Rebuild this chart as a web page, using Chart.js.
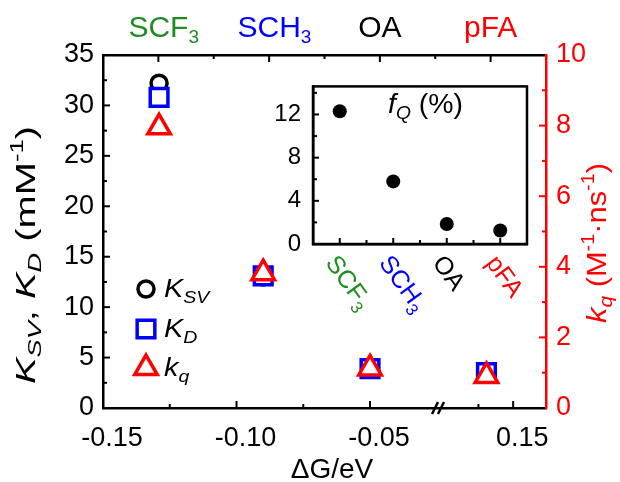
<!DOCTYPE html>
<html>
<head>
<meta charset="utf-8">
<script src="https://cdn.jsdelivr.net/npm/chart.js@4.4.1/dist/chart.umd.min.js"></script>
<style>
  html, body { margin: 0; padding: 0; background: #fff; }
  #wrap { position: relative; width: 620px; height: 482px; }
  #mainChart { position: absolute; left: 0; top: 0; }
  #insetChart { position: absolute; left: 270px; top: 60px; }
</style>
</head>
<body>
<div id="wrap">
  <canvas id="mainChart" width="620" height="482"></canvas>
  <canvas id="insetChart" width="270" height="275"></canvas>
</div>
<script>
const FONT = '"Liberation Sans", Arial, sans-serif';
const F = (style, size) => `${style} ${size}px ${FONT}`;

// quenchers, same order everywhere
const quencherNames = ['SCF', 'SCH', 'OA', 'pFA'];
const quencherSubs = ['3', '3', '', ''];
const quencherColors = ['#1f8c1f', '#0000ff', '#000000', '#ff0000'];

// driving force (eV) and measured constants
const deltaG = [-0.129, -0.090, -0.050, 0.140];
const kSV = [32.2, 13.0, 4.0, 3.6];     // mM-1, left axis
const kD = [30.8, 13.1, 3.9, 3.5];      // mM-1, left axis
const kq = [7.95, 3.82, 1.12, 0.91];    // M-1 ns-1, right axis
const fQ = [12.3, 5.8, 1.85, 1.25];     // %, inset

const xTickValues = [-0.15, -0.10, -0.05, 0.15];
const xTickLabels = ['-0.15', '-0.10', '-0.05', '0.15'];
const xMinorValues = [-0.125, -0.075, 0.137];
const insetYTicks = [0, 4, 8, 12];

// broken x axis: everything right of the cut is shifted left
const X_MIN = -0.15;
const X_MAX = 0.0159;
const BREAK_AT = -0.0238;
const BREAK_SHIFT = 0.1464;
const toAxis = g => (g > 0 ? g - BREAK_SHIFT : g);

function richText(ctx, parts, x, y, opt) {
  const o = Object.assign({ angle: 0, align: 'left', color: '#000', stretch: 1, len: 0 }, opt);
  ctx.save();
  ctx.fillStyle = o.color;
  ctx.textAlign = 'left';
  ctx.textBaseline = 'alphabetic';
  let w = 0;
  for (const [t, f] of parts) { ctx.font = f; w += ctx.measureText(t).width; }
  const sx = o.len ? o.len / w : o.stretch;
  ctx.translate(x, y);
  ctx.rotate(o.angle);
  ctx.scale(sx, 1);
  let cx = o.align === 'center' ? -w / 2 : 0;
  for (const [t, f, dy] of parts) {
    ctx.font = f;
    ctx.fillText(t, cx, dy || 0);
    cx += ctx.measureText(t).width;
  }
  ctx.restore();
}

function marker(ctx, style, x, y, r, color, lw) {
  ctx.save();
  ctx.strokeStyle = color;
  ctx.fillStyle = '#fff';
  ctx.lineWidth = lw;
  ctx.beginPath();
  if (style === 'circle') {
    ctx.arc(x, y, r, 0, Math.PI * 2);
  } else if (style === 'rect') {
    const s = r * Math.SQRT1_2;
    ctx.rect(x - s, y - s, 2 * s, 2 * s);
  } else {
    ctx.moveTo(x, y - r);
    ctx.lineTo(x + r * Math.sin(Math.PI * 2 / 3), y + r / 2);
    ctx.lineTo(x - r * Math.sin(Math.PI * 2 / 3), y + r / 2);
    ctx.closePath();
  }
  ctx.fill();
  ctx.stroke();
  ctx.restore();
}

function line(ctx, x1, y1, x2, y2) {
  ctx.beginPath();
  ctx.moveTo(x1, y1);
  ctx.lineTo(x2, y2);
  ctx.stroke();
}

const mainDecor = {
  id: 'mainDecor',
  afterDraw(chart) {
    const { ctx, chartArea: a, scales } = chart;
    ctx.save();
    ctx.lineWidth = 2;
    ctx.strokeStyle = '#000';

    // inward ticks, bottom axis
    xTickValues.forEach(v => {
      const px = scales.x.getPixelForValue(toAxis(v));
      if (px > a.left + 2 && px < a.right - 2) line(ctx, px, a.bottom, px, a.bottom - 7);
    });
    xMinorValues.forEach(v => {
      const px = scales.x.getPixelForValue(toAxis(v));
      line(ctx, px, a.bottom, px, a.bottom - 4);
    });
    // top category axis
    for (let c = 1; c <= 4; c++) {
      const px = scales.x2.getPixelForValue(c);
      line(ctx, px, a.top, px, a.top + 7);
      if (c < 4) {
        const pm = scales.x2.getPixelForValue(c + 0.5);
        line(ctx, pm, a.top, pm, a.top + 4);
      }
    }
    // left axis
    for (let v = 2.5; v < 35; v += 2.5) {
      const py = scales.y.getPixelForValue(v);
      line(ctx, a.left, py, a.left + (v % 5 === 0 ? 7 : 4), py);
    }
    // right axis (red)
    ctx.strokeStyle = '#ff0000';
    for (let v = 1; v < 10; v++) {
      const py = scales.y2.getPixelForValue(v);
      line(ctx, a.right, py, a.right - (v % 2 === 0 ? 7 : 4), py);
    }

    // axis break marks
    ctx.strokeStyle = '#000';
    ctx.lineWidth = 2.5;
    const bx = scales.x.getPixelForValue(BREAK_AT);
    line(ctx, bx - 8, a.bottom + 6, bx - 2, a.bottom - 6);
    line(ctx, bx - 2, a.bottom + 6, bx + 4, a.bottom - 6);
    ctx.restore();

    // quencher labels on the top axis
    quencherNames.forEach((name, i) => {
      const px = scales.x2.getPixelForValue(i + 1);
      ctx.save();
      ctx.font = F('normal', 30);
      const w = ctx.measureText(name).width;
      ctx.restore();
      const parts = [[name, F('normal', 30)]];
      if (quencherSubs[i]) parts.push([quencherSubs[i], F('normal', 19), 6]);
      richText(ctx, parts, px - w / 2, 37, { color: quencherColors[i] });
    });

    // legend
    const lg = [
      ['circle', 8, '#000', [['K', F('italic', 25)], ['SV', F('italic', 17), 6]], 289],
      ['rect', 12.5, '#0000ff', [['K', F('italic', 25)], ['D', F('italic', 17), 6]], 329],
      ['triangle', 13, '#ff0000', [['k', F('italic', 25)], ['q', F('italic', 17), 6]], 368]
    ];
    lg.forEach(([style, r, col, parts, y]) => {
      marker(ctx, style, 146, y, r, col, 3.5);
      richText(ctx, parts, 164, y + 8, { stretch: 1.15 });
    });

    // axis titles
    richText(ctx, [
      ['K', F('italic', 28)], ['SV', F('italic', 19), 6], [', ', F('normal', 28)],
      ['K', F('italic', 28)], ['D', F('italic', 19), 6], [' (mM', F('normal', 28)],
      ['-1', F('normal', 18), -12], [')', F('normal', 28)]
    ], 35, 255, { angle: -Math.PI / 2, align: 'center', len: 258 });
    richText(ctx, [
      ['k', F('italic', 28)], ['q', F('italic', 19), 6], [' (M', F('normal', 28)],
      ['-1', F('normal', 18), -12], ['\u00b7ns', F('normal', 28)],
      ['-1', F('normal', 18), -12], [')', F('normal', 28)]
    ], 606, 243, { angle: -Math.PI / 2, align: 'center', color: '#ff0000', len: 160 });
    richText(ctx, [['\u0394G/eV', F('normal', 28)]], 332, 478, { align: 'center' });
  }
};

const scatterPoints = ys => deltaG.map((g, i) => ({ x: toAxis(g), y: ys[i] }));
const tickFont = { family: FONT, size: 27 };

new Chart(document.getElementById('mainChart'), {
  type: 'scatter',
  data: {
    datasets: [
      {
        label: 'K_SV', data: scatterPoints(kSV), yAxisID: 'y', order: 3,
        pointStyle: 'circle', pointRadius: 8, pointBorderWidth: 3.5,
        pointBorderColor: '#000', pointBackgroundColor: '#fff'
      },
      {
        label: 'K_D', data: scatterPoints(kD), yAxisID: 'y', order: 2,
        pointStyle: 'rect', pointRadius: 12.5, pointBorderWidth: 3.5,
        pointBorderColor: '#0000ff', pointBackgroundColor: '#fff'
      },
      {
        label: 'k_q', data: scatterPoints(kq), yAxisID: 'y2', order: 1,
        pointStyle: 'triangle', pointRadius: 13, pointBorderWidth: 3.5,
        pointBorderColor: '#ff0000', pointBackgroundColor: '#fff'
      }
    ]
  },
  options: {
    responsive: false,
    animation: false,
    events: [],
    layout: { padding: 0 },
    plugins: { legend: { display: false }, tooltip: { enabled: false } },
    scales: {
      x: {
        type: 'linear', position: 'bottom', min: X_MIN, max: X_MAX,
        afterBuildTicks: s => { s.ticks = xTickValues.map(v => ({ value: toAxis(v) })); },
        afterFit: s => { s.height = 74; },
        grid: { display: false, drawTicks: false },
        border: { display: true, color: '#000', width: 2.5 },
        ticks: {
          autoSkip: false, maxRotation: 0, padding: 14, labelOffset: 9,
          color: '#000', font: tickFont,
          callback: (v, i) => xTickLabels[i]
        }
      },
      x2: {
        type: 'linear', position: 'top', min: 0.5, max: 4.5,
        afterFit: s => { s.height = 55; },
        grid: { display: false, drawTicks: false },
        border: { display: true, color: '#000', width: 2.5 },
        ticks: { display: false }
      },
      y: {
        type: 'linear', position: 'left', min: 0, max: 35,
        afterFit: s => { s.width = 103; },
        grid: { display: false, drawTicks: false },
        border: { display: true, color: '#000', width: 2.5 },
        ticks: { stepSize: 5, padding: 9, color: '#000', font: tickFont }
      },
      y2: {
        type: 'linear', position: 'right', min: 0, max: 10,
        afterFit: s => { s.width = 74; },
        grid: { display: false, drawTicks: false },
        border: { display: true, color: '#ff0000', width: 2.5 },
        ticks: { stepSize: 2, padding: 10, color: '#ff0000', font: tickFont }
      }
    }
  },
  plugins: [mainDecor]
});

const insetDecor = {
  id: 'insetDecor',
  afterDraw(chart) {
    const { ctx, chartArea: a, scales } = chart;
    ctx.save();
    ctx.strokeStyle = '#000';
    ctx.lineWidth = 2.5;
    ctx.strokeRect(a.left, a.top, a.right - a.left, a.bottom - a.top);
    ctx.lineWidth = 2;
    for (let v = 2; v <= 14; v += 2) {
      const py = scales.y.getPixelForValue(v);
      line(ctx, a.left, py, a.left + (v % 4 === 0 ? 6 : 4), py);
    }
    for (let c = 1; c <= 4; c += 0.5) {
      const px = scales.x.getPixelForValue(c);
      line(ctx, px, a.bottom, px, a.bottom - (c % 1 === 0 ? 6 : 4));
    }
    ctx.restore();

    // rotated category labels
    quencherNames.forEach((name, i) => {
      const px = scales.x.getPixelForValue(i + 1);
      const parts = [[name, F('normal', 25)]];
      if (quencherSubs[i]) parts.push([quencherSubs[i], F('normal', 17), 6]);
      richText(ctx, parts, px - 15, a.bottom + 19, { angle: 54 * Math.PI / 180, color: quencherColors[i] });
    });

    richText(ctx, [
      ['f', F('italic', 28)], ['Q', F('italic', 19), 6], [' (%)', F('normal', 28)]
    ], 118, 53, { len: 75 });
  }
};

new Chart(document.getElementById('insetChart'), {
  type: 'scatter',
  data: {
    datasets: [{
      label: 'fQ', data: fQ.map((v, i) => ({ x: i + 1, y: v })),
      pointRadius: 7, pointBorderWidth: 0,
      pointBackgroundColor: '#000', pointBorderColor: '#000'
    }]
  },
  options: {
    responsive: false,
    animation: false,
    events: [],
    layout: { padding: { top: 11, right: 13, left: 0, bottom: 0 } },
    plugins: { legend: { display: false }, tooltip: { enabled: false } },
    scales: {
      x: {
        type: 'linear', min: 0.5, max: 4.5,
        afterFit: s => { s.height = 91; },
        grid: { display: false, drawTicks: false },
        border: { display: true, color: '#000', width: 2.5 },
        ticks: { display: false }
      },
      y: {
        type: 'linear', min: 0, max: 14.6,
        afterBuildTicks: s => { s.ticks = insetYTicks.map(v => ({ value: v })); },
        afterFit: s => { s.width = 43; },
        grid: { display: false, drawTicks: false },
        border: { display: true, color: '#000', width: 2.5 },
        ticks: { padding: 12, color: '#000', font: { family: FONT, size: 24 } }
      }
    }
  },
  plugins: [insetDecor]
});
</script>
</body>
</html>
